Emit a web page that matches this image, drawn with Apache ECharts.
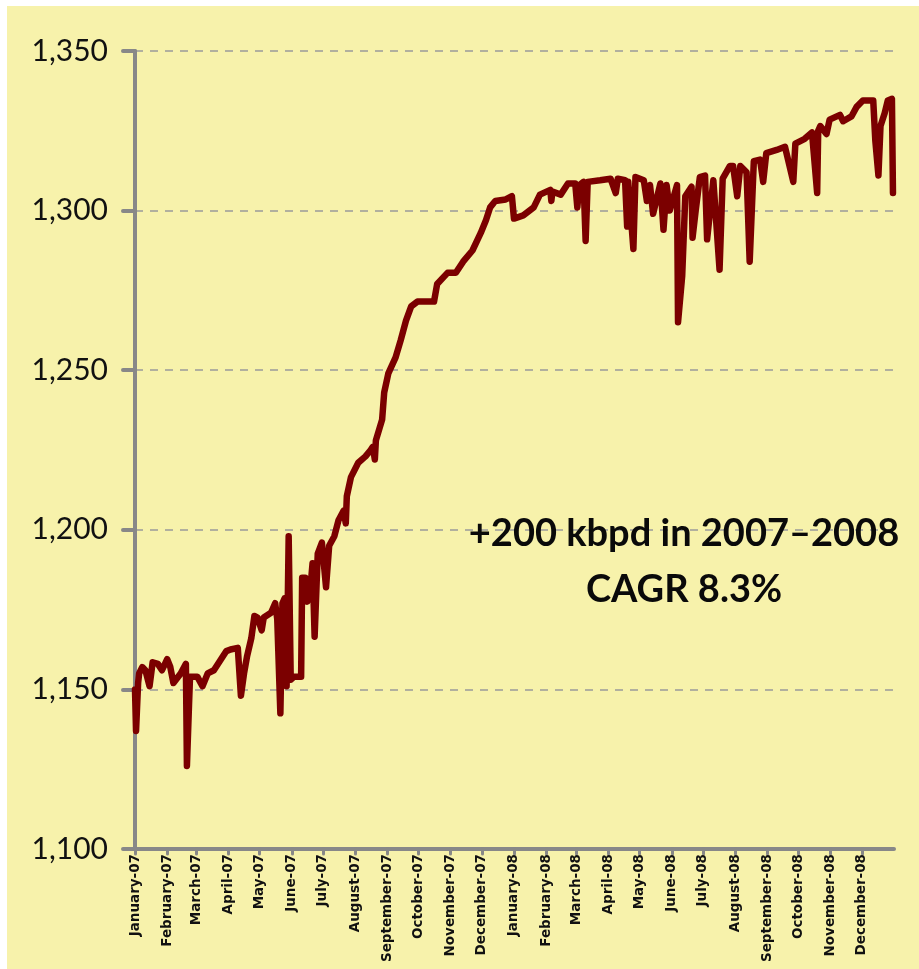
<!DOCTYPE html>
<html>
<head>
<meta charset="utf-8">
<title>Production 2007–2008</title>
<script src="https://cdn.jsdelivr.net/npm/echarts@6/dist/echarts.min.js"></script>
<style>
  html, body { margin: 0; padding: 0; background: #ffffff; }
  #chart { width: 919px; height: 969px; }
</style>
</head>
<body>
<div id="chart"></div>
<script>
// Month tick labels along the bottom axis
const monthTickLabels = [
  'January-07', 'February-07', 'March-07', 'April-07', 'May-07', 'June-07',
  'July-07', 'August-07', 'September-07', 'October-07', 'November-07', 'December-07',
  'January-08', 'February-08', 'March-08', 'April-08', 'May-08', 'June-08',
  'July-08', 'August-08', 'September-08', 'October-08', 'November-08', 'December-08'
];

// Value axis ticks (kbpd)
const yTicks = [1100, 1150, 1200, 1250, 1300, 1350];

// Observed daily production, kbpd
const obsDates = [
  '2007-01-01', '2007-01-02', '2007-01-04', '2007-01-05', '2007-01-08', '2007-01-11',
  '2007-01-15', '2007-01-18', '2007-01-23', '2007-01-27', '2007-02-01', '2007-02-04',
  '2007-02-07', '2007-02-14', '2007-02-19', '2007-02-20', '2007-02-22', '2007-02-23',
  '2007-03-02', '2007-03-07', '2007-03-12', '2007-03-18', '2007-03-25', '2007-03-30',
  '2007-04-03', '2007-04-10', '2007-04-13', '2007-04-16', '2007-04-19', '2007-04-23',
  '2007-04-26', '2007-04-29', '2007-05-03', '2007-05-05', '2007-05-12', '2007-05-16',
  '2007-05-18', '2007-05-21', '2007-05-23', '2007-05-25', '2007-05-27', '2007-05-29',
  '2007-05-31', '2007-06-03', '2007-06-10', '2007-06-11', '2007-06-14', '2007-06-16',
  '2007-06-19', '2007-06-21', '2007-06-23', '2007-06-26', '2007-06-30', '2007-07-04',
  '2007-07-07', '2007-07-12', '2007-07-16', '2007-07-21', '2007-07-23', '2007-07-24',
  '2007-07-28', '2007-08-04', '2007-08-11', '2007-08-16', '2007-08-18', '2007-08-20',
  '2007-08-21', '2007-08-27', '2007-08-29', '2007-09-02', '2007-09-09', '2007-09-14',
  '2007-09-19', '2007-09-24', '2007-09-30', '2007-10-16', '2007-10-19', '2007-10-29',
  '2007-11-06', '2007-11-13', '2007-11-22', '2007-11-30', '2007-12-05', '2007-12-09',
  '2007-12-14', '2007-12-24', '2007-12-30',
  '2008-01-01', '2008-01-10', '2008-01-20', '2008-01-26', '2008-02-05', '2008-02-06',
  '2008-02-07', '2008-02-15', '2008-02-22', '2008-02-29', '2008-03-02', '2008-03-04',
  '2008-03-08', '2008-03-10', '2008-03-12', '2008-03-24', '2008-04-03', '2008-04-08',
  '2008-04-10', '2008-04-17', '2008-04-19', '2008-04-20', '2008-04-25', '2008-04-27',
  '2008-05-05', '2008-05-08', '2008-05-11', '2008-05-14', '2008-05-21', '2008-05-24',
  '2008-05-27', '2008-05-30', '2008-06-06', '2008-06-07', '2008-06-11', '2008-06-14',
  '2008-06-20', '2008-06-21', '2008-06-24', '2008-06-28', '2008-07-03', '2008-07-05',
  '2008-07-11', '2008-07-17', '2008-07-20', '2008-07-27', '2008-07-30', '2008-08-03',
  '2008-08-06', '2008-08-12', '2008-08-15', '2008-08-19', '2008-08-25', '2008-08-28',
  '2008-08-31', '2008-09-10', '2008-09-18', '2008-09-26', '2008-09-28', '2008-10-07',
  '2008-10-14', '2008-10-19', '2008-10-20', '2008-10-22', '2008-10-28', '2008-10-31',
  '2008-11-10', '2008-11-13', '2008-11-21', '2008-11-26', '2008-12-02', '2008-12-12',
  '2008-12-14', '2008-12-17', '2008-12-19', '2008-12-23', '2008-12-26', '2008-12-30',
  '2008-12-31'
];
const obsValues = [
  1150, 1137, 1152, 1155, 1157, 1156,
  1151, 1158.5, 1158, 1156, 1159.5, 1157,
  1152, 1155, 1158, 1126, 1145, 1154,
  1154, 1151, 1155, 1156, 1159.5, 1162,
  1162.5, 1163, 1148, 1155, 1160.5, 1166,
  1173, 1172.5, 1168.5, 1172.5, 1174, 1177,
  1172, 1142.5, 1177, 1178.5, 1151, 1198,
  1153, 1154, 1154, 1185, 1185, 1177.5,
  1182, 1189.5, 1166.5, 1192.5, 1196, 1182,
  1195, 1198, 1203, 1206, 1202, 1210.5,
  1216.5, 1221, 1223, 1225, 1226, 1222,
  1228, 1234.5, 1243, 1249, 1254, 1259.5,
  1265.5, 1270, 1271.5, 1271.5, 1277, 1280.5,
  1280.5, 1284, 1287.5, 1293, 1297, 1301,
  1303, 1303.5, 1304.5,
  1297.5, 1298.5, 1301, 1305, 1306.5, 1303,
  1306, 1305, 1308.5, 1308.5, 1301, 1308,
  1309, 1290.5, 1309, 1309.5, 1310, 1305.5,
  1310, 1309.5, 1295, 1309, 1288, 1310.5,
  1309.5, 1303, 1308, 1299, 1308.5, 1294,
  1308, 1300, 1308, 1265, 1279.5, 1304.5,
  1307.5, 1291.5, 1300, 1310.5, 1311, 1291,
  1309.5, 1281.5, 1310, 1314, 1314, 1304.5,
  1314, 1312, 1284, 1315.5, 1316, 1309,
  1318, 1319, 1320, 1309, 1321, 1322.5,
  1324.5, 1305.5, 1325, 1326.5, 1324, 1328.5,
  1330, 1328, 1329.5, 1332.5, 1334.5, 1334.5,
  1322, 1311, 1326.5, 1330.5, 1334.5, 1335,
  1305.5
];

// Day-by-day category axis covering the two years
const DAY = 86400000;
const firstDay = Date.UTC(2007, 0, 1);
const lastDay = Date.UTC(2009, 0, 1);
const dayCategories = [];
for (let t = firstDay; t <= lastDay; t += DAY) {
  dayCategories.push(new Date(t).toISOString().slice(0, 10));
}
const seriesData = dayCategories.map(() => null);
obsDates.forEach((d, i) => {
  seriesData[dayCategories.indexOf(d)] = obsValues[i];
});

const isMonthStart = (idx, value) => value.slice(8) === '01' && idx < dayCategories.length - 1;
const monthLabel = (value) => {
  const y = +value.slice(0, 4);
  const m = +value.slice(5, 7);
  return monthTickLabels[(y - 2007) * 12 + (m - 1)];
};

const noteFont = 'bold 38px Lato';

const chart = echarts.init(document.getElementById('chart'), null, { renderer: 'canvas' });
chart.setOption({
  backgroundColor: '#ffffff',
  animation: false,
  grid: { left: 135, right: 25, top: 51, bottom: 120, outerBoundsMode: 'none' },
  graphic: [
    {
      type: 'rect', z: -10, silent: true,
      shape: { x: 7, y: 6, width: 912, height: 963 },
      style: { fill: '#F7F2AB' }
    },
    {
      type: 'text', z: 10, x: 684, y: 534,
      style: {
        text: '+200 kbpd in 2007–2008', x: 0, y: 0,
        align: 'center', verticalAlign: 'middle',
        font: noteFont, fill: '#0a0a0a'
      }
    },
    {
      type: 'text', z: 10, x: 684, y: 590,
      style: {
        text: 'CAGR 8.3%', x: 0, y: 0,
        align: 'center', verticalAlign: 'middle',
        font: noteFont, fill: '#0a0a0a'
      }
    }
  ],
  xAxis: {
    type: 'category',
    data: dayCategories,
    boundaryGap: false,
    axisLine: { lineStyle: { color: '#888888', width: 4, cap: 'round' } },
    axisTick: {
      interval: isMonthStart, length: 5,
      lineStyle: { color: '#888888', width: 3, cap: 'round' }
    },
    axisLabel: {
      interval: isMonthStart, rotate: 90, margin: 5,
      formatter: monthLabel,
      fontFamily: 'DejaVu Sans', fontWeight: 'bold', fontSize: 13.5, color: '#111111'
    },
    splitLine: { show: false }
  },
  yAxis: {
    type: 'value',
    min: yTicks[0], max: yTicks[yTicks.length - 1], interval: 50,
    axisLine: { show: true, lineStyle: { color: '#888888', width: 4, cap: 'round' } },
    axisTick: { show: true, length: 12, lineStyle: { color: '#888888', width: 4, cap: 'round' } },
    axisLabel: {
      margin: 27,
      formatter: (v) => v.toLocaleString('en-US'),
      fontFamily: 'Lato', fontSize: 30, color: '#111111'
    },
    splitLine: { show: true, lineStyle: { color: '#9a9a9a', width: 1.5, type: [8, 7] } }
  },
  series: [{
    type: 'line',
    data: seriesData,
    connectNulls: true,
    showSymbol: false,
    symbol: 'none',
    lineStyle: { color: '#7B0000', width: 6.5, cap: 'round', join: 'round' },
    z: 3
  }]
});
</script>
</body>
</html>
